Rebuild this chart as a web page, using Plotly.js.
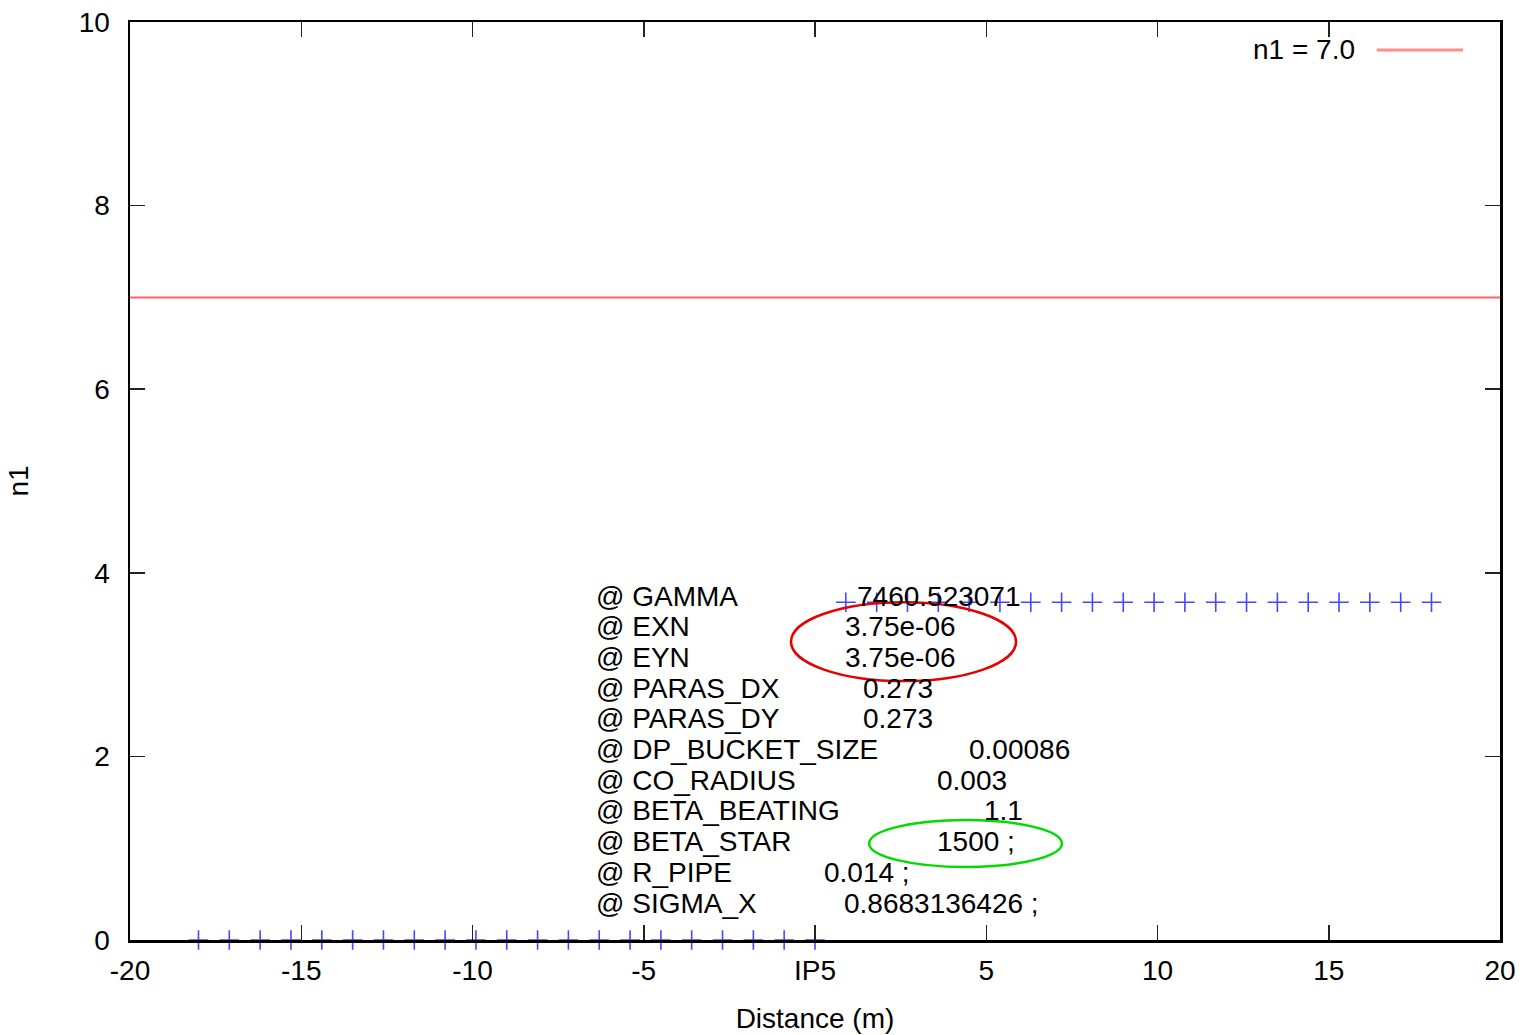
<!DOCTYPE html>
<html>
<head>
<meta charset="utf-8">
<script src="https://cdn.plot.ly/plotly-3.0.1.min.js"></script>
<style>
  html, body { margin: 0; padding: 0; background: #ffffff; }
  #chart { width: 1524px; height: 1035px; }
</style>
</head>
<body>
<div id="chart"></div>
<script>
// ---- data ----
var distance = [-18, -17.1, -16.2, -15.3, -14.4, -13.5, -12.6, -11.7, -10.8, -9.9, -9,
                -8.1, -7.2, -6.3, -5.4, -4.5, -3.6, -2.7, -1.8, -0.9, 0,
                0.9, 1.8, 2.7, 3.6, 4.5, 5.4, 6.3, 7.2, 8.1, 9, 9.9,
                10.8, 11.7, 12.6, 13.5, 14.4, 15.3, 16.2, 17.1, 18];
var n1 = [0, 0, 0, 0, 0, 0, 0, 0, 0, 0, 0,
          0, 0, 0, 0, 0, 0, 0, 0, 0, 0,
          3.68, 3.68, 3.68, 3.68, 3.68, 3.68, 3.68, 3.68, 3.68, 3.68, 3.68,
          3.68, 3.68, 3.68, 3.68, 3.68, 3.68, 3.68, 3.68, 3.68];
var thresholdX = [-20, 20];
var thresholdY = [7.0, 7.0];
var thresholdName = "n1 = 7.0";

var xTickVals = [-20, -15, -10, -5, 0, 5, 10, 15, 20];
var xTickText = ["-20", "-15", "-10", "-5", "IP5", "5", "10", "15", "20"];
var yTickVals = [0, 2, 4, 6, 8, 10];

var paramNames = ["@ GAMMA", "@ EXN", "@ EYN", "@ PARAS_DX", "@ PARAS_DY",
                  "@ DP_BUCKET_SIZE", "@ CO_RADIUS", "@ BETA_BEATING",
                  "@ BETA_STAR", "@ R_PIPE", "@ SIGMA_X"];
var paramValues = ["7460.523071", "3.75e-06", "3.75e-06", "0.273", "0.273",
                   "0.00086", "0.003", "1.1", "1500 ;", "0.014 ;", "0.8683136426 ;"];

// ---- layout helpers (positions only) ----
var valueXPos = [1.17, 0.82, 0.82, 1.34, 1.34, 4.44, 3.50, 4.88, 3.50, 0.20, 0.79];
var nameX = -6.45;
var firstLineY = 3.747;
var lineStep = 0.3344;

var FONT = "Liberation Sans, Arial, sans-serif";
var annotations = [];
for (var i = 0; i < paramNames.length; i++) {
  var yy = firstLineY - i * lineStep;
  annotations.push({x: nameX, y: yy, xref: "x", yref: "y", text: paramNames[i],
    showarrow: false, xanchor: "left", yanchor: "middle",
    font: {family: FONT, size: 28, color: "#000000"}});
  annotations.push({x: valueXPos[i], y: yy, xref: "x", yref: "y", text: paramValues[i],
    showarrow: false, xanchor: "left", yanchor: "middle",
    font: {family: FONT, size: 28, color: "#000000"}});
}
// legend entry drawn gnuplot-style (text then sample)
annotations.push({x: 0.8956, y: 0.9695, xref: "paper", yref: "paper", text: thresholdName,
  showarrow: false, xanchor: "right", yanchor: "middle",
  font: {family: FONT, size: 28, color: "#000000"}});

var shapes = [
  {type: "line", xref: "paper", yref: "paper", x0: 0.910, x1: 0.973, y0: 0.9695, y1: 0.9695,
   line: {color: "rgb(255,140,140)", width: 3}},
  {type: "circle", xref: "x", yref: "y", x0: -0.70, x1: 5.87, y0: 2.82, y1: 3.68,
   line: {color: "rgb(230,0,0)", width: 2.5}},
  {type: "circle", xref: "x", yref: "y", x0: 1.58, x1: 7.21, y0: 0.795, y1: 1.307,
   line: {color: "rgb(0,220,0)", width: 2.5}}
];

var traces = [
  {x: thresholdX, y: thresholdY, type: "scatter", mode: "lines", name: thresholdName,
   line: {color: "rgb(255,100,100)", width: 2}, showlegend: false, hoverinfo: "skip"},
  {x: distance, y: n1, type: "scatter", mode: "markers", name: "n1",
   marker: {symbol: "cross-thin", size: 14, line: {color: "rgb(70,70,255)", width: 1.6}},
   cliponaxis: false, showlegend: false}
];

var axisCommon = {
  showgrid: false, zeroline: false, showline: true, linecolor: "#000000", linewidth: 2.5,
  mirror: "ticks", ticks: "inside", ticklen: 15, tickwidth: 1.5, tickcolor: "#222222",
  tickfont: {family: FONT, size: 28, color: "#000000"}
};

var layout = {
  width: 1524, height: 1035,
  paper_bgcolor: "#ffffff", plot_bgcolor: "#ffffff",
  margin: {l: 130, r: 24, t: 22, b: 95, pad: 0},
  showlegend: false,
  xaxis: Object.assign({}, axisCommon, {
    range: [-20, 20], tickmode: "array", tickvals: xTickVals, ticktext: xTickText,
    ticklabelstandoff: 4,
    title: {text: "Distance (m)", font: {family: FONT, size: 28, color: "#000000"}, standoff: 24}
  }),
  yaxis: Object.assign({}, axisCommon, {
    range: [0, 10], tickmode: "array", tickvals: yTickVals,
    ticklabelstandoff: 12,
    title: {text: "n1", font: {family: FONT, size: 28, color: "#000000"}, standoff: 42}
  }),
  annotations: annotations,
  shapes: shapes
};

Plotly.newPlot("chart", traces, layout, {displayModeBar: false, staticPlot: true});
</script>
</body>
</html>
